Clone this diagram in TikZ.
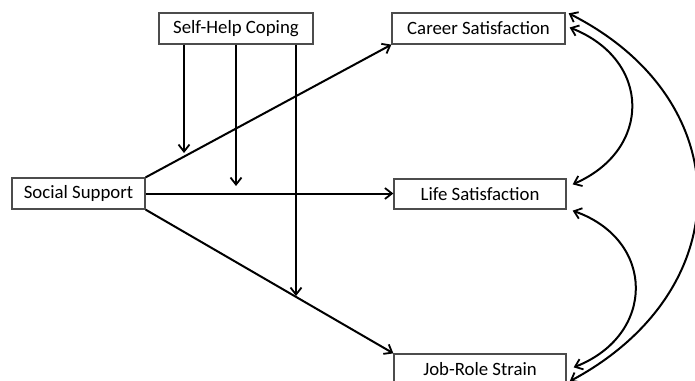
\documentclass[tikz,border=0pt]{standalone}
\usepackage{fontspec}
\setmainfont{Carlito}
\usetikzlibrary{arrows.meta}
\begin{document}
\begin{tikzpicture}[x=1pt,y=-1pt,
  box/.style={draw=black!70, line width=1.3pt, rectangle, inner sep=0pt,
    minimum height=31pt, font=\fontsize{18.8}{21}\selectfont},
  link/.style={line width=2pt, -{Straight Barb[length=7pt,width=11pt,line width=1.8pt]}},
  twoway/.style={line width=2pt, {Straight Barb[length=7pt,width=11pt,line width=1.8pt]}-{Straight Barb[length=7pt,width=11pt,line width=1.8pt]}}]
  \useasboundingbox (0,0) rectangle (695,380);

  % variables
  \node[box, minimum width=154pt] (shc)  at (236,28.5)  {Self-Help Coping};
  \node[box, minimum width=173pt] (car)  at (478.5,28.5) {Career Satisfaction};
  \node[box, minimum width=172pt, minimum height=30pt] (life) at (480,194) {Life Satisfaction};
  \node[box, minimum width=172pt] (job)  at (480,369.5) {Job-Role Strain};
  \node[box, minimum width=133pt] (soc)  at (78.5,193.5) {Social Support};

  % direct paths
  \draw[link] (soc.north east) -- (car.south west);
  \draw[link] (soc.east) -- (soc.east -| life.west);
  \draw[link] (soc.south east) -- (job.north west);

  % moderation by coping
  \coordinate (m1) at (184,153);
  \coordinate (m2) at (236,186);
  \coordinate (m3) at (296,296);
  \draw[link] (shc.south -| m1) -- (m1);
  \draw[link] (shc.south -| m2) -- (m2);
  \draw[link] (shc.south -| m3) -- (m3);

  % residual covariances
  \draw[twoway] ([xshift=4pt,yshift=1pt]car.east) .. controls (652,60) and (652,150) .. ([xshift=6pt,yshift=-6pt]life.north east);
  \draw[twoway] ([xshift=6pt,yshift=-1pt]life.south east) .. controls (656,240) and (656,335) .. ([xshift=7pt,yshift=-14pt]job.north east);
  \draw[twoway] ([xshift=3pt,yshift=-1pt]car.north east) .. controls (740,100) and (740,290) .. ([xshift=3pt,yshift=-28pt]job.north east);
\end{tikzpicture}
\end{document}
